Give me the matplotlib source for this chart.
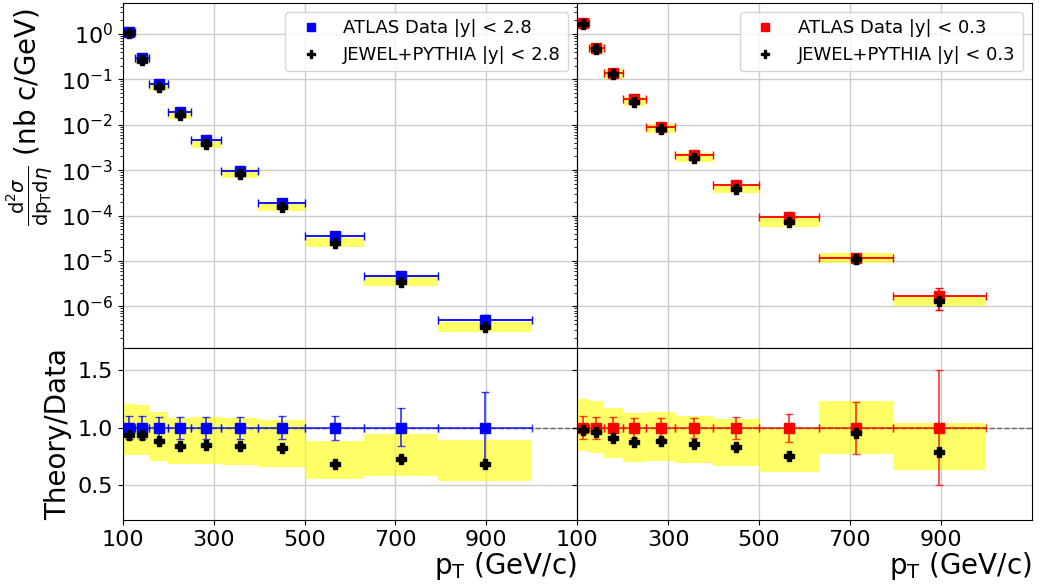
import numpy as np
import matplotlib
matplotlib.use('Agg')
import matplotlib.pyplot as plt

# pT bin edges (GeV/c)
bin_edges = [100, 126, 158, 200, 251, 316, 398, 501, 631, 794, 1000]

# ATLAS data, |y| < 2.8 (left) and |y| < 0.3 (right)
data_28 = [1.09, 0.29, 0.078, 0.019, 0.0045, 9.7e-4, 1.86e-4, 3.6e-5, 4.7e-6, 5.0e-7]
data_03 = [1.72, 0.48, 0.14, 0.0367, 0.009, 0.00214, 4.65e-4, 9.3e-5, 1.18e-5, 1.65e-6]

# relative data uncertainties (down, up)
err_lo_28 = [0.10, 0.10, 0.096, 0.093, 0.093, 0.093, 0.10, 0.107, 0.16, 0.31]
err_hi_28 = [0.10, 0.10, 0.096, 0.093, 0.093, 0.093, 0.10, 0.107, 0.177, 0.31]
err_lo_03 = [0.10, 0.095, 0.096, 0.087, 0.087, 0.087, 0.098, 0.12, 0.226, 0.50]
err_hi_03 = [0.10, 0.095, 0.096, 0.087, 0.087, 0.087, 0.098, 0.12, 0.226, 0.50]

# JEWEL+PYTHIA / data ratio and its band
ratio_28 = [0.942, 0.936, 0.887, 0.843, 0.855, 0.840, 0.823, 0.684, 0.733, 0.684]
band_lo_28 = [0.762, 0.762, 0.713, 0.687, 0.690, 0.675, 0.661, 0.551, 0.585, 0.539]
band_hi_28 = [1.206, 1.197, 1.136, 1.090, 1.099, 1.087, 1.067, 0.887, 0.948, 0.899]

ratio_03 = [0.980, 0.965, 0.916, 0.875, 0.887, 0.858, 0.838, 0.759, 0.957, 0.794]
band_lo_03 = [0.797, 0.783, 0.739, 0.707, 0.716, 0.693, 0.672, 0.612, 0.774, 0.632]
band_hi_03 = [1.249, 1.232, 1.177, 1.128, 1.139, 1.107, 1.075, 0.988, 1.238, 1.041]

xticks = [100, 300, 500, 700, 900]

edges = np.array(bin_edges, dtype=float)
centers = 0.5 * (edges[:-1] + edges[1:])
halfw = 0.5 * np.diff(edges)

fig, axes = plt.subplots(2, 2, figsize=(10.41, 5.88), dpi=100, sharex=True, sharey='row',
                         gridspec_kw={'height_ratios': [2, 1], 'hspace': 0, 'wspace': 0})
fig.subplots_adjust(left=0.118, right=0.991, top=0.995, bottom=0.116)

panels = [
    (0, data_28, err_lo_28, err_hi_28, ratio_28, band_lo_28, band_hi_28, 'blue', '|y| < 2.8'),
    (1, data_03, err_lo_03, err_hi_03, ratio_03, band_lo_03, band_hi_03, 'red', '|y| < 0.3'),
]

for col, data, elo, ehi, ratio, blo, bhi, c, lab in panels:
    data = np.array(data)
    elo, ehi = np.array(elo), np.array(ehi)
    ratio, blo, bhi = np.array(ratio), np.array(blo), np.array(bhi)

    # spectrum panel
    ax = axes[0, col]
    ax.bar(edges[:-1], data * (bhi - blo), bottom=data * blo, width=np.diff(edges),
           align='edge', color='yellow', alpha=0.6, zorder=1)
    ax.errorbar(centers, data, xerr=halfw, yerr=[data * elo, data * ehi], fmt='none',
                ecolor=c, elinewidth=1.3, capsize=3, zorder=2)
    ax.plot(centers, data, 's', color=c, markersize=7, zorder=3, label='ATLAS Data ' + lab)
    ax.plot(centers, data * ratio, 'P', color='black', markersize=7, zorder=4,
            label='JEWEL+PYTHIA ' + lab)
    ax.set_yscale('log')
    ax.grid(True, color='0.8', lw=1)
    ax.set_axisbelow(True)
    ax.legend(loc='upper right', fontsize=13, markerscale=0.85)

    # ratio panel
    ax = axes[1, col]
    ax.bar(edges[:-1], bhi - blo, bottom=blo, width=np.diff(edges),
           align='edge', color='yellow', alpha=0.6, zorder=1)
    ax.axhline(1.0, color='0.4', ls='--', lw=1, zorder=1.5)
    ax.errorbar(centers, np.ones_like(centers), xerr=halfw, yerr=[elo, ehi], fmt='none',
                ecolor=c, elinewidth=1.3, capsize=3, alpha=0.75, zorder=2)
    ax.plot(centers, np.ones_like(centers), 's', color=c, markersize=7, zorder=3)
    ax.plot(centers, ratio, 'P', color='black', markersize=7, zorder=4)
    ax.grid(True, color='0.8', lw=1)
    ax.set_axisbelow(True)
    ax.set_xlabel(r'p$_\mathrm{T}$ (GeV/c)', fontsize=20, loc='right', labelpad=0)

axes[0, 0].set_ylim(1.24e-7, 4.8)
axes[1, 0].set_ylim(0.2, 1.7)
axes[1, 0].set_yticks([0.5, 1.0, 1.5])
axes[1, 0].set_xlim(100, 1100)
axes[1, 0].set_xticks(xticks)
axes[1, 1].set_xticks(xticks)

for ax in axes.flat:
    ax.tick_params(labelsize=16)

axes[0, 0].set_ylabel(r'$\frac{\mathrm{d}^2\sigma}{\mathrm{dp}_\mathrm{T}\mathrm{d}\eta}$ (nb c/GeV)',
                      fontsize=20, y=0.67)
axes[1, 0].set_ylabel('Theory/Data', fontsize=20)

plt.savefig('out.png', dpi=100)
